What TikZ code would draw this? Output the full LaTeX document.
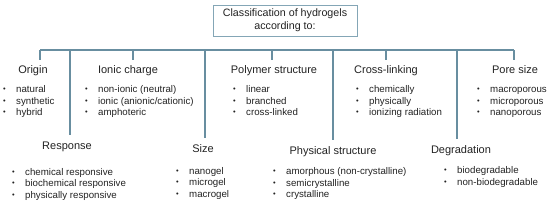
\documentclass[tikz,border=0pt]{standalone}
\usepackage{fontspec}
\setmainfont{Liberation Sans}
\usetikzlibrary{positioning}
\definecolor{hgLine}{RGB}{104,142,160}
\definecolor{hgBox}{RGB}{132,166,182}
\definecolor{hgText}{RGB}{34,34,34}
\newcommand{\Bul}{\makebox[13pt][l]{\raisebox{0.6pt}{\fontsize{7.5}{7.5}\selectfont\textbullet}}}

\begin{document}
\begin{tikzpicture}[x=1pt,y=-1pt,
  head/.style={anchor=base,inner sep=0pt,text=hgText,font=\fontsize{11}{12}\selectfont},
  items/.style={anchor=base west,inner sep=0pt,align=left,text=hgText,font=\fontsize{9.7}{11.5}\selectfont},
  bus/.style={draw=hgLine,line width=1.3pt},
  drop/.style={bus,shorten >=5pt}]
\useasboundingbox (0,0) rectangle (550,204);

% title
\node[draw=hgBox,line width=0.9pt,inner sep=0pt,minimum width=144pt,minimum height=31pt,align=center,text=hgText,font=\fontsize{10.7}{13}\selectfont] (title) at (285,20.5) {Classification of hydrogels\\according to:};

% bus line
\coordinate (b1) at (40,50);
\coordinate (b2) at (70,50);
\coordinate (b3) at (133,50);
\coordinate (b4) at (205,50);
\coordinate (b5) at (272,50);
\coordinate (b6) at (333,50);
\coordinate (b7) at (386,50);
\coordinate (b8) at (457,50);
\coordinate (b9) at (514,50);
\draw[bus] (b1) -- (b9);

% upper row (lists sit on their last baseline)
\node[head] (origin) at (33,73.5) {Origin};
\node[head] (ionic) at (128,73.5) {Ionic charge};
\node[head] (polymer) at (274,73.5) {Polymer structure};
\node[head] (crosslink) at (386,73.5) {Cross-linking};
\node[head] (pore) at (515,73.5) {Pore size};

\node[items] (originList) at (3,115.5) {\Bul natural\\\Bul synthetic\\\Bul hybrid};
\node[items] (ionicList) at (85,115.5) {\Bul non-ionic (neutral)\\\Bul ionic (anionic/cationic)\\\Bul amphoteric};
\node[items] (polymerList) at (233,115.5) {\Bul linear\\\Bul branched\\\Bul cross-linked};
\node[items] (crosslinkList) at (356,115.5) {\Bul chemically\\\Bul physically\\\Bul ionizing radiation};
\node[items] (poreList) at (477,115.5) {\Bul macroporous\\\Bul microporous\\\Bul nanoporous};

% lower row
\node[head] (response) at (67,149.5) {Response};
\node[head] (size) at (203,152.5) {Size};
\node[head] (physical) at (333,154.5) {Physical structure};
\node[head] (degradation) at (461,153.5) {Degradation};

\node[items] (responseList) at (12,198) {\Bul chemical responsive\\\Bul biochemical responsive\\\Bul physically responsive};
\node[items] (sizeList) at (176,197) {\Bul nanogel\\\Bul microgel\\\Bul macrogel};
\node[items] (physicalList) at (273,197.5) {\Bul amorphous (non-crystalline)\\\Bul semicrystalline\\\Bul crystalline};
\node[items] (degradationList) at (444,185) {\Bul biodegradable\\\Bul non-biodegradable};

% drops
\draw[drop] (b1) -- (b1 |- origin.north);
\draw[drop] (b3) -- (b3 |- ionic.north);
\draw[drop] (b5) -- (b5 |- polymer.north);
\draw[drop] (b7) -- (b7 |- crosslink.north);
\draw[drop] (b9) -- (b9 |- pore.north);
\draw[drop,shorten >=6.5pt] (b2) -- (b2 |- response.north);
\draw[drop,shorten >=6.5pt] (b4) -- (b4 |- size.north);
\draw[drop,shorten >=6.5pt] (b6) -- (b6 |- physical.north);
\draw[drop,shorten >=6.5pt] (b8) -- (b8 |- degradation.north);
\end{tikzpicture}
\end{document}
